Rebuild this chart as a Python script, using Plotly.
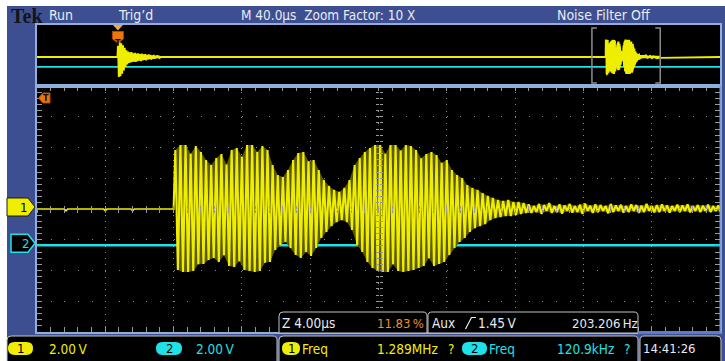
import numpy as np
import plotly.graph_objects as go

W, H = 725, 361

# ---- acquisition setup ----
VOLTS_PER_DIV = 2.0
MAIN_SPAN_US = 400.0      # 40 us/div x 10 div
ZOOM_SPAN_US = 40.0       # 4 us/div x 10 div
CH1_POS = 0.0             # div
CH2_POS = -1.18           # div
TRIG_TIME = 47.4          # us into the main record
ZOOM_START = 325.0        # us, left edge of the zoom window

# ---- channel 1 inside the zoom window: successive peak pairs (V) ----
BURST_T0 = 8.1            # us, first peak
PEAK_PERIOD = 0.3         # us per hi/lo pair
burst_hi = [3.84, 4.16, 4.16, 3.60, 4.10, 3.71, 3.19, 2.86, 3.32, 3.58,
            2.90, 3.84, 3.97, 3.40, 4.16, 4.16, 3.70, 4.10, 3.84, 2.86,
            2.21, 2.08, 2.54, 3.19, 3.64, 3.71, 3.10, 3.19, 2.54, 1.89,
            1.50, 1.24, 1.11, 1.37, 1.89, 2.86, 3.32, 3.71, 3.97, 4.16,
            4.16, 3.60, 4.16, 4.16, 3.80, 4.16, 4.10, 3.84, 3.30, 3.58,
            3.71, 3.51, 3.00, 3.19, 2.54, 2.21, 2.02, 1.56, 1.37, 1.24,
            1.04, 0.85, 0.72, 0.59, 0.52, 0.59, 0.46, 0.46, 0.39]
burst_lo = [-3.97, -4.10, -4.10, -4.03, -3.60, -3.58, -3.32, -3.19, -3.45, -3.00,
            -3.71, -3.77, -3.40, -3.97, -4.03, -4.10, -4.03, -3.50, -3.45, -2.67,
            -2.34, -2.15, -2.54, -2.99, -3.19, -2.80, -3.06, -2.54, -1.89, -1.50,
            -1.11, -0.85, -0.72, -0.85, -1.37, -2.34, -2.80, -3.45, -3.84, -4.03,
            -4.10, -4.10, -3.60, -4.03, -4.10, -4.03, -3.97, -3.84, -3.71, -3.20,
            -3.71, -3.58, -3.45, -2.99, -2.54, -2.15, -1.89, -1.50, -1.24, -1.11,
            -0.98, -0.72, -0.59, -0.52, -0.46, -0.46, -0.39, -0.33, -0.26]
tail_hi = [0.30, 0.20, 0.33, 0.26, 0.39, 0.20, 0.30, 0.24, 0.33, 0.20,
           0.28, 0.35, 0.22, 0.30, 0.26, 0.20, 0.33, 0.24, 0.28, 0.20,
           0.30, 0.26, 0.22, 0.33, 0.20, 0.26, 0.30, 0.24, 0.20, 0.28,
           0.24, 0.30, 0.20, 0.26, 0.22, 0.28, 0.20, 0.24]
tail_lo = [-0.26, -0.20, -0.33, -0.13, -0.26, -0.20, -0.30, -0.13, -0.24, -0.20,
           -0.33, -0.13, -0.26, -0.20, -0.13, -0.28, -0.20, -0.13, -0.24, -0.20,
           -0.13, -0.26, -0.20, -0.13, -0.22, -0.20, -0.13, -0.24, -0.13, -0.20,
           -0.13, -0.22, -0.13, -0.20, -0.13, -0.20, -0.13, -0.20]

# quiet stretch ahead of the burst (us, V)
pre_t = [0.0, 1.6, 1.7, 1.8, 3.9, 4.0, 4.1, 5.5, 5.6, 5.7, 8.0]
pre_v = [0.0, 0.0, -0.12, 0.0, 0.0, -0.10, 0.0, 0.0, -0.12, 0.0, 0.0]

# ---- channel 1 in the main record: ring-down at the trigger (V) ----
TRIG_PERIOD = 1.0
trig_hi = [3.0, 3.6, 3.3, 2.8, 2.2, 1.6, 1.3, 1.1, 1.2, 0.9, 1.0, 0.8, 0.9,
           0.7, 0.8, 0.6, 0.7, 0.5, 0.6, 0.5, 0.4, 0.5, 0.3, 0.4, 0.3]
trig_lo = [-4.8, -4.6, -4.0, -3.2, -2.4, -1.8, -1.4, -1.3, -1.2, -1.1, -1.2, -1.0, -0.9,
           -1.0, -0.8, -0.7, -0.8, -0.6, -0.5, -0.6, -0.4, -0.4, -0.3, -0.3, -0.2]

# ---- channel 2 stays at 0 V ----
ch2_t = [0.0, MAIN_SPAN_US]
ch2_v = [0.0, 0.0]

# ---- colours / fonts ----
BLUE = "#3d4f91"
EDGE = "#8eaedc"
GRID = "#8a8a8a"
TICK = "#9a9a9a"
YEL = "#f0ee00"
YEL_DIM = "#5c5a00"      # persistence shading between the sweeps
CYAN = "#1ee2e8"
ORANGE = "#e8780c"
TXT = "#e8eaf2"
NARROW = "Liberation Sans Narrow, DejaVu Sans Condensed, Arial Narrow, sans-serif"
RS = 13.5          # readout font size
THIN = "\u2009"


def peaks(t0, period, hi, lo):
    v = np.column_stack([hi, lo]).ravel()
    t = t0 + 0.5 * period * np.arange(v.size)
    return t, v


burst_t, burst_v = peaks(BURST_T0, PEAK_PERIOD, burst_hi, burst_lo)
tail_t0 = BURST_T0 + len(burst_hi) * PEAK_PERIOD
tail_t, tail_v = peaks(tail_t0, PEAK_PERIOD, tail_hi, tail_lo)
ring_t = np.concatenate([burst_t, tail_t])
ring_v = np.concatenate([burst_v, tail_v])
zoom_t = np.concatenate([pre_t, ring_t])
zoom_v = np.concatenate([pre_v, ring_v])

# envelope polygon: upper peaks forward, lower peaks back
env_t = np.concatenate([ring_t[0::2], ring_t[1::2][::-1]])
env_v = np.concatenate([ring_v[0::2], ring_v[1::2][::-1]])

trig_t, trig_v = peaks(TRIG_TIME, TRIG_PERIOD, trig_hi, trig_lo)
rec_t = np.concatenate([[0.0, TRIG_TIME - 0.3], trig_t,
                        [trig_t[-1] + 0.5], ZOOM_START + zoom_t,
                        [MAIN_SPAN_US]])
rec_v = np.concatenate([[0.0, 0.0], trig_v, [0.0], zoom_v, [0.0]])


def X(px):
    return px / W


def Y(py):
    return 1 - py / H


def rpath(cmds):
    out = []
    for op, *nums in cmds:
        pts = [f"{X(nums[i]):.5f},{Y(nums[i + 1]):.5f}" for i in range(0, len(nums), 2)]
        out.append(op + " ".join(pts))
    return " ".join(out)


def rbox(x0, y0, x1, y1, r=4):
    return rpath([("M", x0, y1), ("L", x0, y0 + r), ("Q", x0, y0, x0 + r, y0),
                  ("L", x1 - r, y0), ("Q", x1, y0, x1, y0 + r), ("L", x1, y1), ("Z",)])


def pill(x0, x1, y0, y1):
    r = (y1 - y0) / 2
    yc = (y0 + y1) / 2
    return rpath([("M", x0 + r, y0), ("L", x1 - r, y0), ("Q", x1, y0, x1, yc),
                  ("Q", x1, y1, x1 - r, y1), ("L", x0 + r, y1), ("Q", x0, y1, x0, yc),
                  ("Q", x0, y0, x0 + r, y0), ("Z",)])


def txt(x, y, s, color, size=RS, family=NARROW, xanchor="left"):
    return dict(x=X(x), y=Y(y), xref="paper", yref="paper", text=s, showarrow=False,
                xanchor=xanchor, yanchor="middle",
                font=dict(family=family, size=size, color=color))


def div(v, pos):
    return np.asarray(v) / VOLTS_PER_DIV + pos


fig = go.Figure()

# zoomed view
fig.add_trace(go.Scatter(x=ch2_t, y=div(ch2_v, CH2_POS), mode="lines",
                         line=dict(color=CYAN, width=2.6),
                         xaxis="x", yaxis="y", hoverinfo="skip"))
fig.add_trace(go.Scatter(x=env_t, y=div(env_v, CH1_POS), mode="lines", fill="toself",
                         fillcolor=YEL_DIM, line=dict(width=0),
                         xaxis="x", yaxis="y", hoverinfo="skip"))
fig.add_trace(go.Scatter(x=pre_t, y=div(pre_v, CH1_POS), mode="lines",
                         line=dict(color=YEL, width=1.7),
                         xaxis="x", yaxis="y", hoverinfo="skip"))
fig.add_trace(go.Scatter(x=np.concatenate([pre_t[-1:], ring_t]),
                         y=div(np.concatenate([pre_v[-1:], ring_v]), CH1_POS), mode="lines",
                         line=dict(color=YEL, width=2.1),
                         xaxis="x", yaxis="y", hoverinfo="skip"))
# full record overview
fig.add_trace(go.Scatter(x=ch2_t, y=div(ch2_v, CH2_POS), mode="lines",
                         line=dict(color=CYAN, width=1.6),
                         xaxis="x2", yaxis="y2", hoverinfo="skip"))
fig.add_trace(go.Scatter(x=rec_t, y=div(rec_v, CH1_POS), mode="lines",
                         line=dict(color=YEL, width=1.8),
                         xaxis="x2", yaxis="y2", hoverinfo="skip"))
# carriers for the centre cross-hair tick axes
for xa, ya in [("x3", "y"), ("x4", "y"), ("x", "y3"), ("x", "y4")]:
    fig.add_trace(go.Scatter(x=[None], y=[None], xaxis=xa, yaxis=ya, hoverinfo="skip"))

main_dom_x = [X(37), X(720)]
main_dom_y = [Y(332), Y(86)]
ov_dom_y = [Y(86), Y(25)]

hidden = dict(showticklabels=False, zeroline=False, fixedrange=True)


def centre_axis(kind, side_ticks):
    base = dict(anchor="free", showline=False, showgrid=False, ticks=side_ticks,
                ticklen=3, tickcolor=TICK, tick0=0, **hidden)
    if kind == "x":
        base.update(overlaying="x", position=Y(209), range=[0, ZOOM_SPAN_US], dtick=4,
                    minor=dict(ticks=side_ticks, ticklen=3, tick0=0, dtick=0.8, tickcolor=TICK))
    else:
        base.update(overlaying="y", position=X(378.5), range=[-4, 4], dtick=1,
                    minor=dict(ticks=side_ticks, ticklen=3, tick0=0, dtick=0.2, tickcolor=TICK))
    return base


fig.update_layout(
    xaxis=dict(domain=main_dom_x, range=[0, ZOOM_SPAN_US], anchor="y",
               showline=True, linecolor=EDGE, linewidth=2, mirror="allticks",
               ticks="inside", ticklen=5, tickwidth=1, tickcolor=TICK, tick0=0, dtick=4,
               showgrid=True, gridcolor=GRID, gridwidth=1, griddash="1px,5.15px",
               minor=dict(ticks="inside", ticklen=3, tick0=0, dtick=0.8,
                          tickcolor=TICK, tickwidth=1, showgrid=False),
               **hidden),
    yaxis=dict(domain=main_dom_y, range=[-4, 4], anchor="x",
               showline=True, linecolor=EDGE, linewidth=2, mirror="allticks",
               ticks="inside", ticklen=5, tickwidth=1, tickcolor=TICK, tick0=0, dtick=1,
               showgrid=True, gridcolor=GRID, gridwidth=1, griddash="1px,12.66px",
               minor=dict(ticks="inside", ticklen=3, tick0=0, dtick=0.2,
                          tickcolor=TICK, tickwidth=1, showgrid=False),
               **hidden),
    xaxis2=dict(domain=main_dom_x, range=[0, MAIN_SPAN_US], anchor="y2",
                showline=True, linecolor=EDGE, linewidth=2, mirror=True,
                ticks="", showgrid=False, **hidden),
    yaxis2=dict(domain=ov_dom_y, range=[-3.477, 3.837], anchor="x2",
                showline=True, linecolor=EDGE, linewidth=2, mirror=True,
                ticks="", showgrid=False, **hidden),
    xaxis3=centre_axis("x", "inside"),
    xaxis4=centre_axis("x", "outside"),
    yaxis3=centre_axis("y", "inside"),
    yaxis4=centre_axis("y", "outside"),
)

shapes = []
# white outer margin
shapes.append(dict(type="rect", xref="paper", yref="paper", x0=0, x1=1, y0=Y(6), y1=1.02,
                   fillcolor="white", line=dict(width=0), layer="below"))
shapes.append(dict(type="rect", xref="paper", yref="paper", x0=-0.01, x1=X(7), y0=-0.02, y1=1.02,
                   fillcolor="white", line=dict(width=0), layer="below"))

# readout panels
for x0, x1 in [(7, 277), (279, 638), (640, 721)]:
    shapes.append(dict(type="path", xref="paper", yref="paper", path=rbox(x0, 336, x1, 366),
                       fillcolor="black", line=dict(color="#c4c4c4", width=1), layer="above"))
for x0, x1 in [(279, 427), (428, 638)]:
    shapes.append(dict(type="path", xref="paper", yref="paper", path=rbox(x0, 312, x1, 333),
                       fillcolor="black", line=dict(color="#c4c4c4", width=1), layer="above"))
shapes.append(dict(type="line", xref="paper", yref="paper", x0=X(638), x1=X(721.5),
                   y0=Y(332.5), y1=Y(332.5), line=dict(color="#5d7bcc", width=3), layer="above"))
shapes.append(dict(type="line", xref="paper", yref="paper", x0=X(720.5), x1=X(720.5),
                   y0=Y(332.5), y1=Y(86), line=dict(color="#7d9ad6", width=2), layer="above"))

# channel badges
for x0, x1, col in [(8, 33, YEL), (156, 182, CYAN), (282, 300, YEL), (462, 487, CYAN)]:
    shapes.append(dict(type="path", xref="paper", yref="paper", path=pill(x0, x1, 342, 355),
                       fillcolor=col, line=dict(width=0), layer="above"))

# rising-edge glyph of the aux trigger readout
shapes.append(dict(type="path", xref="paper", yref="paper",
                   path=rpath([("M", 465.5, 329), ("L", 471.5, 317.5), ("L", 476, 317.5)]),
                   line=dict(color=TXT, width=1.2), layer="above"))

# channel ground markers on the left
shapes.append(dict(type="path", xref="paper", yref="y", ysizemode="pixel", yanchor=CH1_POS,
                   path=f"M{X(7)},11 L{X(28)},11 L{X(35)},2 L{X(28)},-7 L{X(7)},-7 Z",
                   fillcolor=YEL, line=dict(color="#202000", width=1), layer="above"))
shapes.append(dict(type="path", xref="paper", yref="y", ysizemode="pixel", yanchor=CH2_POS,
                   path=f"M{X(11)},11 L{X(28)},11 L{X(35)},2 L{X(28)},-7 L{X(11)},-7 Z",
                   fillcolor="black", line=dict(color=CYAN, width=1.5), layer="above"))

# trigger position marker over the record overview
shapes.append(dict(type="path", xref="x2", xsizemode="pixel", xanchor=TRIG_TIME, yref="paper",
                   path=f"M-5,{Y(25)} L5,{Y(25)} L0,{Y(30.5)} Z",
                   fillcolor="#f6a83a", line=dict(width=0), layer="above"))
shapes.append(dict(type="path", xref="x2", xsizemode="pixel", xanchor=TRIG_TIME, yref="paper",
                   path=f"M-5.5,{Y(31.5)} L5.5,{Y(31.5)} L5.5,{Y(39)} L0,{Y(43)} L-5.5,{Y(39)} Z",
                   fillcolor=ORANGE, line=dict(color="#b04800", width=1), layer="above"))
# trigger off-screen marker in the zoom view
shapes.append(dict(type="path", xref="paper", yref="paper",
                   path=rpath([("M", 38.5, 98), ("L", 43, 93), ("L", 50, 93), ("L", 50, 103),
                               ("L", 43, 103), ("Z",)]),
                   fillcolor=ORANGE, line=dict(color="#b04800", width=1), layer="above"))

# zoom window brackets on the overview
BR = "#8c8c8c"
shapes.append(dict(type="path", xref="x2", xsizemode="pixel", xanchor=ZOOM_START, yref="paper",
                   path=f"M5,{Y(28)} L0,{Y(28)} L0,{Y(83)} L5,{Y(83)}",
                   line=dict(color=BR, width=1.5), layer="above"))
shapes.append(dict(type="path", xref="x2", xsizemode="pixel",
                   xanchor=ZOOM_START + ZOOM_SPAN_US, yref="paper",
                   path=f"M-5,{Y(28)} L0,{Y(28)} L0,{Y(83)} L-5,{Y(83)}",
                   line=dict(color=BR, width=1.5), layer="above"))

ann = [
    txt(9, 15.5, "<b>Tek</b>", "#141414", size=20, family="Liberation Serif, Times New Roman, serif"),
    txt(47, 15, "Run", TXT, size=14),
    txt(116, 15, "Trig\u2019d", TXT, size=14),
    txt(239, 15, "M 40.0\u00b5s\u00a0 Zoom Factor: 10 X", TXT, size=13.5),
    txt(555, 15, "Noise Filter Off", TXT, size=14),
    # readouts
    txt(20.5, 348.5, "1", "black", size=13, xanchor="center"),
    txt(47, 348.5, "2.00" + THIN + "V", YEL),
    txt(169, 348.5, "2", "black", size=13, xanchor="center"),
    txt(194, 348.5, "2.00" + THIN + "V", CYAN),
    txt(291, 348.5, "1", "black", size=13, xanchor="center"),
    txt(300, 348.5, "Freq", YEL),
    txt(375, 348.5, "1.289MHz", YEL),
    txt(446, 348.5, "?", YEL),
    txt(474.5, 348.5, "2", "black", size=13, xanchor="center"),
    txt(487, 348.5, "Freq", CYAN),
    txt(555, 348.5, "120.9kHz", CYAN),
    txt(622, 348.5, "?", CYAN),
    txt(641, 348.5, "14:41:26", TXT, size=13),
    txt(280, 323, "Z 4.00\u00b5s", TXT),
    txt(375, 323, "11.83" + THIN + "%", "#e8902a", size=13),
    txt(430, 323, "Aux", TXT),
    txt(476, 323, "1.45" + THIN + "V", TXT),
    txt(570, 323, "203.206" + THIN + "Hz", TXT, size=13),
    # channel marker labels
    dict(x=X(17.5), y=CH1_POS, xref="paper", yref="y", yshift=2, text="1", showarrow=False,
         font=dict(family=NARROW, size=13, color="black")),
    dict(x=X(20), y=CH2_POS, xref="paper", yref="y", yshift=2, text="2", showarrow=False,
         font=dict(family=NARROW, size=13, color=CYAN)),
    dict(x=TRIG_TIME, y=Y(35.5), xref="x2", yref="paper", text="<b>T</b>", showarrow=False,
         font=dict(family=NARROW, size=9, color="#1a0a00")),
    txt(46, 98, "<b>T</b>", "#1a0a00", size=9, xanchor="center"),
]

fig.update_layout(width=W, height=H, margin=dict(l=0, r=0, t=0, b=0),
                  paper_bgcolor=BLUE, plot_bgcolor="black", showlegend=False,
                  shapes=shapes, annotations=ann)

fig.write_html("out.html")
